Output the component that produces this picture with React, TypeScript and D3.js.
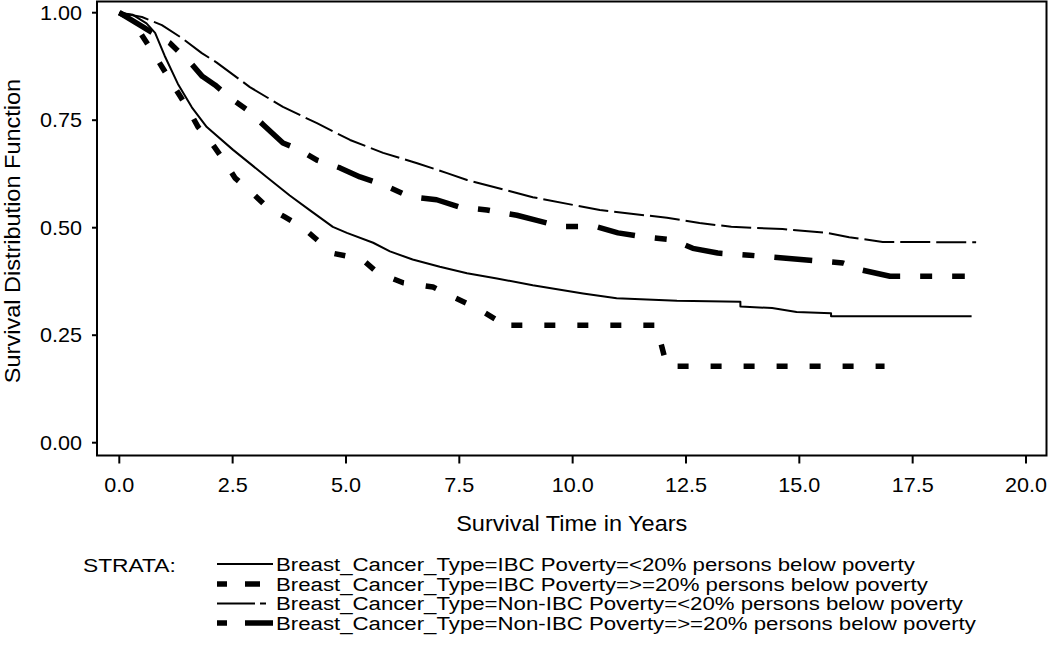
import React from "react";
import * as d3 from "d3";

type Pt = [number, number];

// Survival time (years), survival probability
const ibcLow: Pt[] = [
  [0, 1], [0.3, 0.995], [0.6, 0.975], [0.79, 0.953], [1.0, 0.9], [1.29, 0.835],
  [1.6, 0.78], [1.93, 0.734], [2.51, 0.681], [3.25, 0.618],
  [3.76, 0.575], [4.2, 0.541], [4.71, 0.502], [5.02, 0.488], [5.6, 0.465],
  [5.97, 0.445], [6.47, 0.426], [7.07, 0.409], [7.67, 0.394], [8.33, 0.382],
  [9.12, 0.366], [10.23, 0.347], [10.97, 0.336], [12.3, 0.33], [13.7, 0.328],
  [13.7, 0.317], [14.4, 0.313], [14.94, 0.304], [15.7, 0.301], [15.7, 0.294],
  [18.8, 0.294],
];

const ibcHigh: Pt[] = [
  [0, 1], [0.3, 0.985], [0.45, 0.955], [0.68, 0.918], [0.96, 0.871], [1.23, 0.825],
  [1.49, 0.781], [1.74, 0.734], [2.07, 0.692], [2.33, 0.653], [2.55, 0.616],
  [2.93, 0.581], [3.26, 0.548], [3.65, 0.525], [4.03, 0.502], [4.36, 0.472],
  [4.69, 0.441], [5.35, 0.427], [5.7, 0.395], [6.26, 0.372], [6.92, 0.362],
  [7.36, 0.339], [7.89, 0.313], [8.33, 0.285], [8.33, 0.273], [11.85, 0.273],
  [11.95, 0.23], [12.08, 0.178], [16.88, 0.178],
];

const nonIbcLow: Pt[] = [
  [0, 1], [0.5, 0.99], [0.94, 0.971], [1.38, 0.941], [1.82, 0.906], [2.15, 0.884],
  [2.88, 0.827], [3.61, 0.781], [4.36, 0.743], [5.09, 0.704], [5.82, 0.674],
  [6.57, 0.65], [7.23, 0.627], [7.67, 0.611], [9.12, 0.571], [10.6, 0.541],
  [12.08, 0.523], [12.8, 0.511], [13.5, 0.502], [14.63, 0.497], [15.6, 0.488],
  [16.1, 0.478], [16.84, 0.467], [18.9, 0.466],
];

const nonIbcHigh: Pt[] = [
  [0, 1], [0.52, 0.967], [1.12, 0.929], [1.6, 0.88], [1.83, 0.852], [2.11, 0.832],
  [2.51, 0.797], [2.82, 0.774], [3.18, 0.739], [3.61, 0.697], [3.98, 0.681],
  [4.36, 0.657], [4.87, 0.639], [5.31, 0.618], [5.82, 0.6], [6.41, 0.572],
  [7.0, 0.565], [7.51, 0.548], [8.11, 0.541], [8.77, 0.529], [9.21, 0.517],
  [9.72, 0.503], [10.5, 0.503], [11.0, 0.488], [11.55, 0.479], [12.2, 0.472],
  [12.65, 0.452], [13.2, 0.441], [13.9, 0.436], [15.16, 0.425], [15.96, 0.418],
  [16.4, 0.401], [17.0, 0.387], [18.65, 0.387],
];

const xTicks = [0, 2.5, 5, 7.5, 10, 12.5, 15, 17.5, 20];
const yTicks = [0, 0.25, 0.5, 0.75, 1];

const strataLabels = [
  "Breast_Cancer_Type=IBC Poverty=<20% persons below poverty",
  "Breast_Cancer_Type=IBC Poverty=>=20% persons below poverty",
  "Breast_Cancer_Type=Non-IBC Poverty=<20% persons below poverty",
  "Breast_Cancer_Type=Non-IBC Poverty=>=20% persons below poverty",
];

const seriesData = [ibcLow, ibcHigh, nonIbcLow, nonIbcHigh];

const styles = [
  { width: 2, dash: "none", legendDash: "none" },
  { width: 5.5, dash: "11 22", legendDash: "10 18 15 100" },
  { width: 2, dash: "30 6", legendDash: "38 5 6 100" },
  { width: 5.5, dash: "38 20 12 20", legendDash: "10 18 28 100" },
];

const FONT = "'Liberation Sans', Arial, sans-serif";

function T({
  x, y, size, sx = 1.08, anchor = "start", rotate = 0, dy, children,
}: {
  x: number; y: number; size: number; sx?: number; anchor?: string; rotate?: number;
  dy?: string; children: React.ReactNode;
}) {
  return (
    <g transform={`translate(${x},${y}) rotate(${rotate}) scale(${sx},1)`}>
      <text x={0} y={0} dy={dy} textAnchor={anchor as any} fontSize={size} fill="#000">
        {children}
      </text>
    </g>
  );
}

export default function App() {
  const left = 97, right = 1046.5, top = 1.5, bottom = 455.5;
  const x = d3.scaleLinear().domain([0, 20]).range([119.3, 1026]);
  const y = d3.scaleLinear().domain([0, 1]).range([442.7, 12.7]);
  const line = d3
    .line<Pt>()
    .x((d) => x(d[0]))
    .y((d) => y(d[1]))
    .curve(d3.curveLinear);

  const legendRowY = [564, 584, 603.5, 623];

  return (
    <svg
      width={1050}
      height={647}
      style={{ position: "absolute", left: 0, top: 0, background: "#fff" }}
      fontFamily={FONT}
    >
      <rect x={0} y={0} width={1050} height={647} fill="#fff" />
      {/* plot frame */}
      <rect
        x={left}
        y={top}
        width={right - left}
        height={bottom - top}
        fill="none"
        stroke="#000"
        strokeWidth={2}
      />
      {/* y ticks */}
      {yTicks.map((t) => (
        <g key={"y" + t}>
          <line x1={left - 5} x2={left} y1={y(t)} y2={y(t)} stroke="#000" strokeWidth={2} />
          <T x={82} y={y(t)} dy="0.36em" anchor="end" size={20}>
            {d3.format(".2f")(t)}
          </T>
        </g>
      ))}
      {/* x ticks */}
      {xTicks.map((t) => (
        <g key={"x" + t}>
          <line x1={x(t)} x2={x(t)} y1={bottom} y2={bottom + 8} stroke="#000" strokeWidth={2} />
          <T x={x(t)} y={492} anchor="middle" size={20}>
            {d3.format(".1f")(t)}
          </T>
        </g>
      ))}
      {/* axis titles */}
      <T x={(left + right) / 2} y={531} anchor="middle" size={22.5} sx={1.045}>
        Survival Time in Years
      </T>
      <T x={20} y={231} anchor="middle" size={22.5} sx={1.045} rotate={-90}>
        Survival Distribution Function
      </T>
      {/* curves */}
      {seriesData.map((s, i) => (
        <path
          key={"s" + i}
          d={line(s) || ""}
          fill="none"
          stroke="#000"
          strokeWidth={styles[i].width}
          strokeDasharray={styles[i].dash}
          strokeLinejoin="round"
        />
      ))}
      {/* legend */}
      <T x={83} y={572} size={19} sx={1.2}>
        STRATA:
      </T>
      {strataLabels.map((lab, i) => (
        <g key={"l" + i}>
          <line
            x1={217}
            x2={273}
            y1={legendRowY[i]}
            y2={legendRowY[i]}
            stroke="#000"
            strokeWidth={styles[i].width}
            strokeDasharray={styles[i].legendDash}
          />
          <T x={276} y={legendRowY[i]} dy="0.36em" size={19} sx={1.17}>
            {lab}
          </T>
        </g>
      ))}
    </svg>
  );
}
